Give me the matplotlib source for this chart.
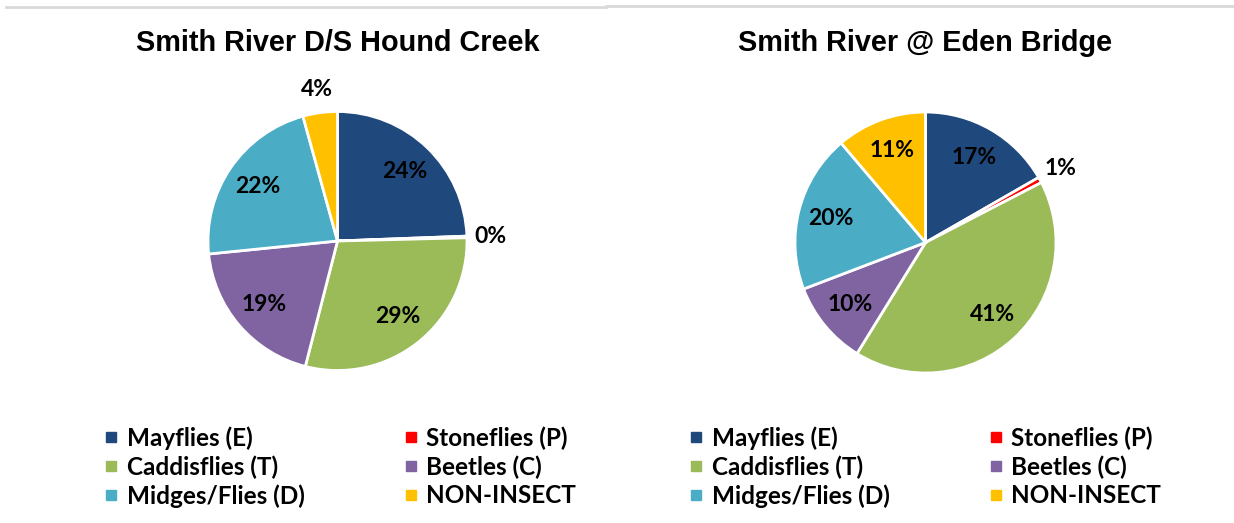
import numpy as np
import matplotlib.pyplot as plt
from matplotlib.lines import Line2D

# Excel 2007-style palette
NAVY, RED, GREEN, PURPLE, CYAN, GOLD = "#1F497D", "#FF0000", "#9BBB59", "#8064A2", "#4BACC6", "#FFC000"

CATEGORIES = ["Mayflies (E)", "Stoneflies (P)", "Caddisflies (T)",
              "Beetles (C)", "Midges/Flies (D)", "NON-INSECT"]
COLORS = [NAVY, RED, GREEN, PURPLE, CYAN, GOLD]

TITLES = ["Smith River D/S Hound Creek", "Smith River @ Eden Bridge"]
HOUND_CREEK = [24.4, 0.2, 29.4, 19.4, 22.3, 4.3]
EDEN_BRIDGE = [16.7, 0.7, 41.4, 10.4, 19.6, 11.2]

W, H = 1234, 523
plt.rcParams.update({"font.family": ["Lato", "DejaVu Sans"]})


def px_axes(fig, cx, cy, r):
    # square axes whose unit circle sits at pixel centre (cx, cy) with radius r
    return fig.add_axes([(cx - r) / W, (H - cy - r) / H, 2 * r / W, 2 * r / H])


def draw_pie(fig, cx, cy, r, values, title, leg_xy):
    ax = px_axes(fig, cx, cy, r)
    total = sum(values)
    wedges, _ = ax.pie(values, colors=COLORS, startangle=90, counterclock=False,
                       wedgeprops=dict(edgecolor="white", linewidth=2))
    ax.set_xlim(-1, 1)
    ax.set_ylim(-1, 1)
    ax.set_aspect("equal")
    ax.axis("off")

    # big slices labelled inside, tiny ones just outside the rim
    for w, v in zip(wedges, values):
        ang = np.deg2rad((w.theta1 + w.theta2) / 2)
        frac = v / total
        rr = 0.75 if frac >= 0.05 else 1.18
        ax.text(rr * np.cos(ang), rr * np.sin(ang), f"{frac*100:.0f}%",
                ha="center", va="center", fontsize=16.5, fontweight="bold",
                color="black", clip_on=False)

    fig.text(cx / W, 1 - 43 / H, title, ha="center", va="center",
             fontsize=20.8, fontweight="bold", family="Liberation Sans")

    # legend laid out row by row like Excel: reorder for column-major fill
    order = [0, 2, 4, 1, 3, 5]
    handles = [Line2D([], [], marker="s", linestyle="none", markersize=7,
                      markerfacecolor=COLORS[i], markeredgecolor=COLORS[i])
               for i in order]
    labels = [CATEGORIES[i] for i in order]
    fig.legend(handles, labels, loc="upper left", bbox_to_anchor=(leg_xy[0] / W, 1 - leg_xy[1] / H),
               ncol=2, frameon=False, prop=dict(family="Lato", weight="bold", size=17.5),
               handlelength=0.6, handletextpad=0.35, columnspacing=4.05,
               labelspacing=0.225, borderpad=0, borderaxespad=0)


fig = plt.figure(figsize=(W / 100, H / 100), dpi=100)
fig.patch.set_facecolor("white")

draw_pie(fig, 337.5, 241, 129.5, HOUND_CREEK, TITLES[0], (104, 426))
draw_pie(fig, 925.5, 242.5, 130.5, EDEN_BRIDGE, TITLES[1], (689, 426))

# faint chart-box borders peeking in at the top
fig.add_artist(Line2D([6 / W, 606 / W], [1 - 7 / H, 1 - 7 / H], color="#D9D9D9", lw=2))
fig.add_artist(Line2D([606 / W, 1.0], [1 - 6 / H, 1 - 6 / H], color="#D9D9D9", lw=2))

fig.savefig("out.png", dpi=100, facecolor="white")
